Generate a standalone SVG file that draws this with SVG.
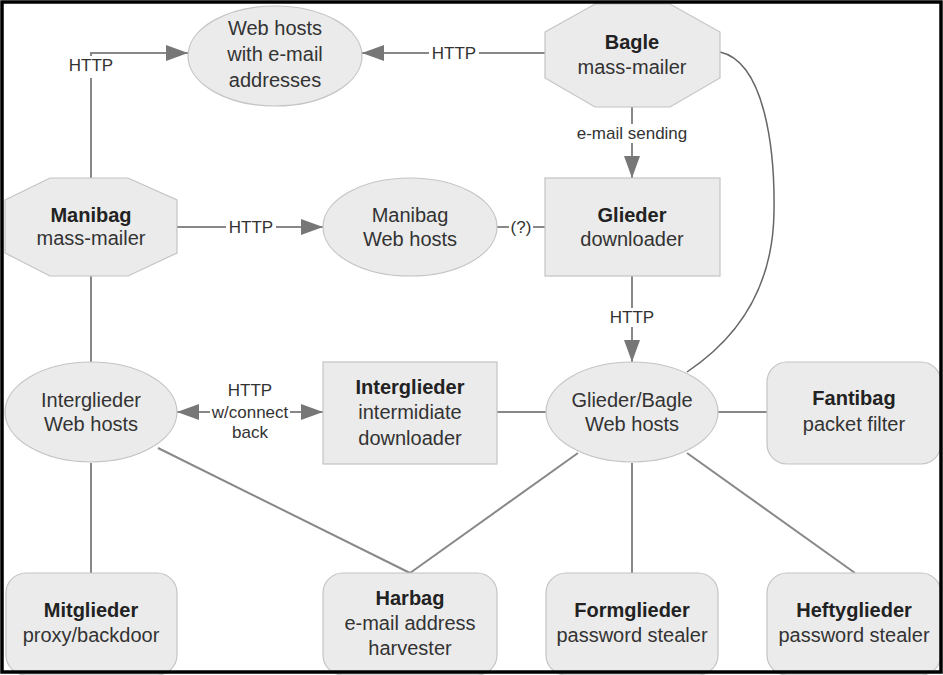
<svg xmlns="http://www.w3.org/2000/svg" width="943" height="675" viewBox="0 0 943 675">
<style>
.node{fill:#ebebeb;stroke:#c4c4c4;stroke-width:1.2}
.t{font-family:"Liberation Sans",Arial,sans-serif;font-size:20px;fill:#333;text-anchor:middle}
.b{font-weight:bold;fill:#222}
.lbl{font-family:"Liberation Sans",Arial,sans-serif;font-size:17px;fill:#333;text-anchor:middle}
.c{fill:none;stroke:#888;stroke-width:2}
.cv{fill:none;stroke:#666;stroke-width:1.5}
.bg{fill:#fff}
</style>
<defs>
<marker id="ah" markerUnits="userSpaceOnUse" markerWidth="22" markerHeight="16" refX="22" refY="8" orient="auto-start-reverse">
<path d="M0,0 L22,8 L0,16 z" fill="#777"/>
</marker>
</defs>
<rect width="943" height="675" fill="#fff"/>
<g id="connectors">
<polyline class="c" points="91,178 91,53 188,53" marker-end="url(#ah)"/>
<line class="c" x1="545" y1="53" x2="362" y2="53" marker-end="url(#ah)"/>
<line class="c" x1="632" y1="107" x2="632" y2="178" marker-end="url(#ah)"/>
<line class="c" x1="177" y1="227" x2="323" y2="227" marker-end="url(#ah)"/>
<line class="c" x1="497" y1="227" x2="545" y2="227"/>
<line class="c" x1="632" y1="276" x2="632" y2="362" marker-end="url(#ah)"/>
<path class="cv" d="M720,52 C765,62 775,150 774,212 C773,290 735,340 687,372"/>
<line class="c" x1="91" y1="276" x2="91" y2="362"/>
<line class="c" x1="177" y1="412" x2="323" y2="412" marker-start="url(#ah)" marker-end="url(#ah)"/>
<line class="c" x1="497" y1="412" x2="546" y2="412"/>
<line class="c" x1="718" y1="412" x2="767" y2="412"/>
<line class="c" x1="91" y1="463" x2="91" y2="573"/>
<line class="c" x1="158" y1="448" x2="410" y2="573"/>
<line class="c" x1="578" y1="453" x2="410" y2="573"/>
<line class="c" x1="632" y1="463" x2="632" y2="573"/>
<line class="c" x1="687" y1="453" x2="855" y2="573"/>
<rect class="bg" x="64" y="56" width="54" height="22"/>
<text class="lbl" x="91" y="71">HTTP</text>
<rect class="bg" x="429" y="44" width="50" height="18"/>
<text class="lbl" x="454" y="59">HTTP</text>
<rect class="bg" x="574" y="124" width="116" height="19"/>
<text class="lbl" x="632" y="139">e-mail sending</text>
<rect class="bg" x="226" y="218" width="50" height="18"/>
<text class="lbl" x="251" y="233">HTTP</text>
<rect class="bg" x="509" y="218" width="24" height="18"/>
<text class="lbl" x="521" y="233">(?)</text>
<rect class="bg" x="607" y="308" width="50" height="19"/>
<text class="lbl" x="632" y="323">HTTP</text>
<rect class="bg" x="210" y="380" width="80" height="62"/>
<text class="lbl" x="250" y="396">HTTP</text>
<text class="lbl" x="250" y="418">w/connect</text>
<text class="lbl" x="250" y="438">back</text>
</g>
<g id="webhosts-email">
<ellipse class="node" cx="275" cy="56" rx="87" ry="50"/>
<text class="t" x="275" y="35">Web hosts</text>
<text class="t" x="275" y="61">with e-mail</text>
<text class="t" x="275" y="87">addresses</text>
</g>
<g id="bagle">
<polygon class="node" points="545,32 595,4 670,4 720,32 720,78 670,107 595,107 545,78"/>
<text class="t b" x="632" y="49">Bagle</text>
<text class="t" x="632" y="74">mass-mailer</text>
</g>
<g id="manibag">
<polygon class="node" points="5,200 50,178 128,178 177,200 177,253 128,276 50,276 5,253"/>
<text class="t b" x="91" y="222">Manibag</text>
<text class="t" x="91" y="245">mass-mailer</text>
</g>
<g id="manibag-webhosts">
<ellipse class="node" cx="410" cy="227" rx="87" ry="49"/>
<text class="t" x="410" y="222">Manibag</text>
<text class="t" x="410" y="246">Web hosts</text>
</g>
<g id="glieder">
<rect class="node" x="545" y="178" width="175" height="98"/>
<text class="t b" x="632" y="222">Glieder</text>
<text class="t" x="632" y="246">downloader</text>
</g>
<g id="interglieder-webhosts">
<ellipse class="node" cx="91" cy="412" rx="86" ry="50"/>
<text class="t" x="91" y="407">Interglieder</text>
<text class="t" x="91" y="431">Web hosts</text>
</g>
<g id="interglieder">
<rect class="node" x="323" y="362" width="174" height="102"/>
<text class="t b" x="410" y="394">Interglieder</text>
<text class="t" x="410" y="419">intermidiate</text>
<text class="t" x="410" y="445">downloader</text>
</g>
<g id="glieder-bagle-webhosts">
<ellipse class="node" cx="632" cy="412" rx="86" ry="50"/>
<text class="t" x="632" y="407">Glieder/Bagle</text>
<text class="t" x="632" y="431">Web hosts</text>
</g>
<g id="fantibag">
<rect class="node" x="767" y="362" width="174" height="102" rx="20"/>
<text class="t b" x="854" y="405">Fantibag</text>
<text class="t" x="854" y="431">packet filter</text>
</g>
<g id="mitglieder">
<rect class="node" x="6" y="573" width="171" height="102" rx="20"/>
<text class="t b" x="91" y="617">Mitglieder</text>
<text class="t" x="91" y="642">proxy/backdoor</text>
</g>
<g id="harbag">
<rect class="node" x="323" y="573" width="174" height="102" rx="20"/>
<text class="t b" x="410" y="605">Harbag</text>
<text class="t" x="410" y="630">e-mail address</text>
<text class="t" x="410" y="655">harvester</text>
</g>
<g id="formglieder">
<rect class="node" x="546" y="573" width="172" height="102" rx="20"/>
<text class="t b" x="632" y="617">Formglieder</text>
<text class="t" x="632" y="642">password stealer</text>
</g>
<g id="heftyglieder">
<rect class="node" x="767" y="573" width="174" height="102" rx="20"/>
<text class="t b" x="854" y="617">Heftyglieder</text>
<text class="t" x="854" y="642">password stealer</text>
</g>
<rect x="2" y="2" width="939" height="670" fill="none" stroke="#000" stroke-width="3.5"/>
</svg>
